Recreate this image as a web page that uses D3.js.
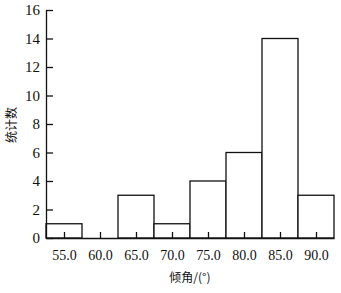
<!DOCTYPE html>
<html>
<head>
<meta charset="utf-8">
<script src="https://cdn.jsdelivr.net/npm/d3@7"></script>
<style>
  body { margin: 0; background: #fff; }
  text { fill: #111; }
</style>
</head>
<body>
<div id="chart"></div>
<script>
var width = 341, height = 293;

// histogram bins (degrees) and counts
var binStarts = [52.5, 57.5, 62.5, 67.5, 72.5, 77.5, 82.5, 87.5],
    counts    = [1, 0, 3, 1, 4, 6, 14, 3],
    binWidth  = 5;

var xTicks = [55, 60, 65, 70, 75, 80, 85, 90],
    yTicks = [0, 2, 4, 6, 8, 10, 12, 14, 16];

var xLabel = "倾角/(°)",
    yLabel = "统计数";

var svg = d3.select("#chart").append("svg")
            .attr("width", width)
            .attr("height", height);

var margin = {top: 10, right: 7, bottom: 55, left: 46},
    gwidth = width - margin.left - margin.right,
    gheight = height - margin.top - margin.bottom;

var g = svg.append("g")
           .attr("transform", "translate(" + margin.left + "," + margin.top + ")");

var xScale = d3.scaleLinear().domain([52.5, 92.5]).range([0, gwidth]),
    yScale = d3.scaleLinear().domain([0, 16]).range([gheight, 0]);

// bars
g.selectAll("rect.bar")
 .data(binStarts.map(function(d, i) { return {x0: d, n: counts[i]}; })
                .filter(function(d) { return d.n > 0; }))
 .enter()
 .append("rect")
 .attr("class", "bar")
 .attr("x", function(d) { return xScale(d.x0); })
 .attr("y", function(d) { return yScale(d.n); })
 .attr("width", function(d) { return xScale(d.x0 + binWidth) - xScale(d.x0); })
 .attr("height", function(d) { return yScale(0) - yScale(d.n); })
 .style("fill", "#fff")
 .style("stroke", "#111")
 .style("stroke-width", 1.3);

// x axis, ticks pointing inward
var xaxis = d3.axisBottom(xScale)
              .tickValues(xTicks)
              .tickSizeInner(-6)
              .tickSizeOuter(0)
              .tickPadding(12)
              .tickFormat(d3.format(".1f"));

var gx = g.append("g")
          .attr("class", "x axis")
          .attr("transform", "translate(0," + gheight + ")")
          .call(xaxis);

// y axis, ticks pointing inward
var yaxis = d3.axisLeft(yScale)
              .tickValues(yTicks)
              .tickSizeInner(-7)
              .tickSizeOuter(0)
              .tickPadding(6);

var gy = g.append("g")
          .attr("class", "y axis")
          .call(yaxis);

svg.selectAll(".axis path, .axis line")
   .style("stroke", "#111")
   .style("stroke-width", 1.3);

svg.selectAll(".axis text")
   .style("font-family", "'Liberation Serif', 'DejaVu Serif', serif")
   .style("font-size", "15px")
   .style("fill", "#111");

gx.selectAll("text").style("font-size", "14px");

// axis labels
svg.append("text")
   .attr("text-anchor", "middle")
   .attr("x", margin.left + gwidth / 2)
   .attr("y", 282)
   .style("font-family", "'Noto Sans CJK SC', sans-serif")
   .style("font-size", "12px")
   .text(xLabel);

svg.append("text")
   .attr("text-anchor", "middle")
   .attr("transform", "translate(16,125) rotate(-90)")
   .style("font-family", "'Noto Sans CJK SC', sans-serif")
   .style("font-size", "12px")
   .text(yLabel);
</script>
</body>
</html>
